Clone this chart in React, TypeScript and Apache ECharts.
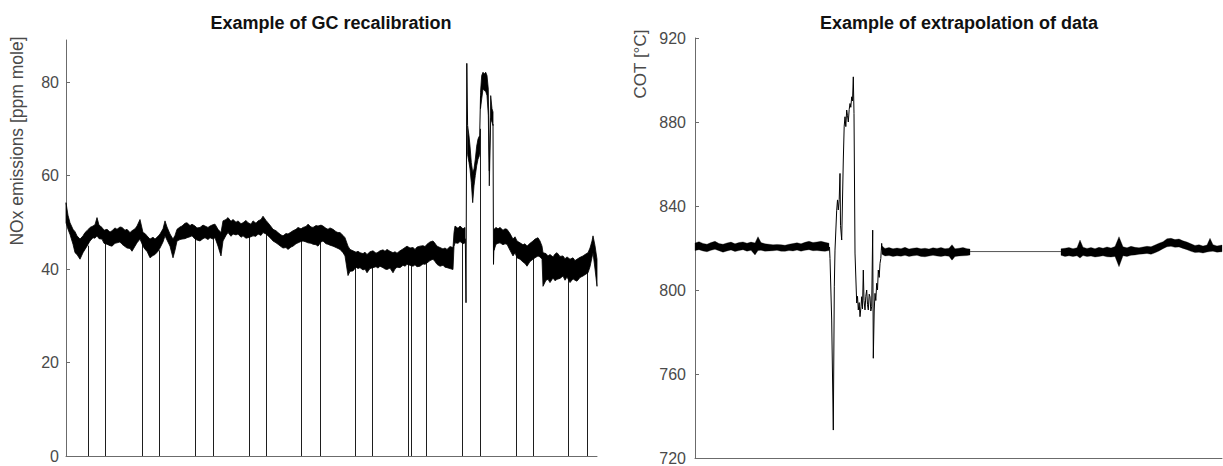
import React, { useEffect, useRef } from "react";
import * as echarts from "echarts";

// ---------- NOx emissions (left panel) ----------
// Noise envelope of the NOx trace: [sample, upper, lower] in ppm mole
const noxBase: [number, number, number][] = [
  [0, 54.2, 49.9], [2, 51.5, 48.5], [4, 49.9, 47.4], [7, 48.5, 45.3], [9, 48.0, 43.5],
  [11, 47.1, 43.1], [14, 46.4, 42.1], [17, 47.1, 43.5], [19, 47.8, 44.2], [21, 48.2, 44.9],
  [24, 48.9, 46.0], [27, 49.2, 46.7], [29, 49.5, 46.6], [31, 51.0, 47.1], [33, 49.4, 46.5],
  [36, 48.9, 46.4], [38, 48.3, 45.5], [41, 48.5, 45.3], [44, 47.9, 45.0], [46, 48.2, 44.9],
  [49, 48.8, 45.5], [51, 48.5, 45.6], [54, 49.0, 45.8], [56, 48.9, 45.3], [59, 48.3, 44.8],
  [61, 48.5, 44.5], [64, 47.8, 44.4], [66, 48.2, 43.8], [69, 48.6, 44.9], [71, 49.2, 45.6],
  [74, 50.6, 46.4], [77, 47.8, 44.9], [79, 47.6, 44.2], [81, 47.1, 43.8], [84, 46.4, 42.4],
  [87, 46.8, 42.9], [89, 46.4, 43.1], [92, 47.0, 43.8], [94, 47.5, 44.5], [97, 48.6, 45.8],
  [99, 50.3, 47.1], [101, 49.0, 46.2], [104, 47.5, 44.9], [107, 46.4, 42.4], [109, 47.2, 44.0],
  [111, 48.5, 46.0], [114, 49.0, 46.3], [116, 49.2, 46.4], [119, 49.8, 46.5], [121, 49.9, 46.7],
  [124, 49.3, 46.9], [126, 49.6, 47.1], [129, 49.2, 46.4], [131, 48.8, 46.2], [134, 48.9, 46.0],
  [137, 49.4, 46.5], [139, 49.2, 46.7], [142, 48.9, 46.3], [144, 49.2, 46.7], [147, 49.5, 46.4],
  [149, 49.6, 46.7], [152, 48.5, 44.9], [155, 47.8, 42.8], [157, 50.3, 46.0], [160, 50.6, 47.2],
  [162, 51.0, 47.8], [165, 50.2, 47.0], [167, 50.6, 47.5], [170, 50.0, 47.3], [172, 50.3, 47.5],
  [175, 49.7, 46.8], [177, 49.9, 47.1], [180, 50.4, 46.6], [182, 49.9, 46.7], [185, 49.6, 46.9],
  [187, 50.3, 47.1], [190, 49.8, 47.0], [192, 50.3, 47.5], [195, 50.6, 47.2], [197, 51.3, 47.8],
  [200, 50.4, 47.5], [202, 49.9, 47.1], [205, 49.1, 46.5], [207, 48.5, 46.0], [210, 48.2, 45.6],
  [212, 47.8, 45.3], [215, 47.3, 44.8], [217, 47.1, 44.5], [220, 47.6, 44.6], [222, 47.5, 44.2],
  [225, 47.9, 44.7], [227, 48.2, 44.9], [230, 48.5, 45.4], [232, 48.9, 45.6], [235, 48.6, 45.9],
  [237, 48.9, 46.0], [240, 49.1, 45.8], [242, 49.6, 45.6], [245, 49.0, 45.5], [247, 48.9, 45.3],
  [250, 49.3, 45.2], [252, 49.2, 44.9], [255, 49.4, 45.8], [257, 49.2, 46.0], [260, 48.7, 45.4],
  [262, 48.5, 45.3], [264, 48.8, 45.1], [267, 48.5, 44.9], [270, 48.0, 44.6], [272, 47.8, 44.4],
  [274, 47.8, 44.2], [277, 47.2, 43.5], [279, 46.7, 42.8], [282, 44.9, 38.6], [284, 44.2, 39.5],
  [287, 43.9, 39.6], [290, 43.6, 40.4], [292, 43.8, 40.1], [294, 43.5, 40.3], [297, 43.3, 39.8],
  [299, 43.6, 40.0], [301, 43.1, 39.2], [304, 43.7, 40.1], [307, 43.9, 40.3], [310, 43.4, 40.5],
  [312, 43.6, 40.2], [314, 43.9, 40.6], [317, 44.1, 40.3], [319, 43.8, 40.0], [321, 44.2, 39.9],
  [324, 43.8, 40.2], [327, 43.5, 39.2], [329, 43.7, 40.0], [331, 43.4, 40.4], [334, 43.9, 40.3],
  [337, 44.3, 40.8], [339, 44.6, 40.6], [341, 44.9, 41.0], [344, 44.5, 40.8], [347, 44.6, 40.6],
  [349, 44.2, 40.9], [351, 44.7, 40.5], [354, 44.9, 40.6], [357, 45.0, 41.1], [359, 44.8, 41.0],
  [361, 45.3, 41.3], [364, 45.8, 41.8], [367, 46.0, 42.1], [369, 45.5, 41.6], [371, 44.9, 41.0],
  [374, 44.6, 40.6], [377, 44.3, 40.8], [379, 44.5, 40.4], [381, 44.2, 40.3], [384, 44.8, 40.1],
  [387, 44.6, 39.9], [388, 47.8, 44.8], [389, 49.2, 45.6], [392, 48.7, 45.5], [394, 49.2, 45.9],
  [397, 48.6, 45.4], [399, 48.9, 45.6],
];

// V-shaped excursion after the first peak
const noxDip: [number, number, number][] = [
  [401.6, 70.7, 64.5], [403, 68.5, 62.8], [404, 66.3, 61.4], [405.3, 62.8, 58.5],
  [406.7, 60.7, 54.2], [408, 61.4, 57.8], [409.3, 63.5, 60.0], [410.7, 66.3, 62.1],
  [412, 67.8, 63.5], [413.3, 68.4, 64.2],
];

// High plateau around 80 ppm
const noxPlateau: [number, number, number][] = [
  [414.5, 77.8, 74.3], [415.7, 81.4, 76.4], [417, 82.1, 78.5], [418.3, 81.7, 78.2],
  [419.7, 82.1, 78.0], [421, 81.4, 77.1], [422.3, 78.5, 72.9], [423.3, 61.0, 57.8],
  [424.7, 77.1, 72.2], [426, 74.3, 71.4], [427, 73.6, 70.7],
];

// Trace after the excursion
const noxTail: [number, number, number][] = [
  [428, 48.5, 44.0], [430, 48.9, 45.3], [432, 48.6, 45.5], [434, 48.9, 45.6], [437, 48.3, 45.2],
  [439, 48.6, 45.4], [441, 48.5, 45.3], [444, 47.6, 44.0], [447, 46.4, 42.8], [449, 46.9, 43.5],
  [451, 46.0, 42.4], [454, 45.6, 42.1], [457, 45.2, 41.5], [459, 45.4, 41.2], [461, 44.9, 40.6],
  [464, 45.5, 41.6], [467, 46.0, 42.1], [469, 46.4, 42.4], [472, 46.7, 42.8], [474, 46.0, 42.6],
  [476, 44.9, 42.1], [477, 43.5, 36.3], [480, 43.3, 37.6], [482, 42.8, 37.8], [484, 43.1, 37.1],
  [487, 42.6, 38.1], [489, 43.2, 37.5], [491, 43.5, 37.8], [494, 42.7, 38.0], [497, 42.8, 38.5],
  [499, 42.2, 37.6], [501, 42.6, 38.3], [504, 42.1, 37.1], [507, 42.4, 37.9], [509, 41.8, 37.6],
  [511, 42.1, 37.4], [514, 42.5, 38.2], [517, 42.8, 38.5], [519, 43.1, 38.8], [522, 43.5, 39.2],
  [524, 44.5, 40.5], [526, 46.0, 42.5], [527, 47.1, 43.5], [529, 45.0, 40.0], [531, 42.1, 36.3],
];

// Sharp transitions drawn as single lines
const noxPeak: [number, number][] = [[399.3, 46.5], [400.0, 32.8], [400.8, 84.0], [401.6, 70.7]];
const noxRise: [number, number][] = [[413.3, 64.5], [414.5, 77.0]];
const noxFall: [number, number][] = [[427.0, 71.0], [427.5, 41.0], [428.0, 46.0]];

// GC recalibration instants: [sample, level before drop] — trace falls to 0 ppm
const noxRecal: [number, number][] = [
  [21.7, 45], [39.3, 47], [75.7, 45.5], [93, 44], [128.7, 47], [147, 47], [182.7, 47.5],
  [200, 48], [235.3, 46.5], [253.7, 46], [289, 41], [306, 41], [342.3, 41.5], [344.7, 41.5],
  [360, 42], [395.7, 46], [414.3, 70], [449.7, 44], [466.7, 43], [502.3, 38.5], [520.7, 40],
];

// ---------- Combustor outlet temperature (right panel) ----------
// Noise envelope of measured COT: [sample, upper, lower] in °C
const cotBefore: [number, number, number][] = [
  [0, 822.4, 818.8], [4, 823.0, 819.2], [8, 822.2, 818.6], [12, 821.8, 818.2], [16, 822.6, 818.9],
  [20, 823.2, 819.4], [24, 822.1, 818.7], [28, 821.8, 818.0], [32, 822.4, 818.6], [36, 822.8, 819.1],
  [40, 822.0, 818.3], [44, 822.6, 818.8], [48, 822.9, 819.2], [52, 822.3, 818.5], [56, 822.8, 818.9],
  [60, 822.4, 816.7], [63, 825.4, 818.8], [66, 822.6, 818.9], [70, 822.0, 818.5], [74, 821.8, 818.6],
  [78, 821.5, 818.7], [82, 821.7, 818.9], [86, 821.6, 818.5], [90, 821.3, 818.4], [94, 821.8, 818.8],
  [98, 822.1, 818.6], [102, 822.5, 819.0], [106, 822.0, 818.5], [110, 822.7, 818.9], [114, 823.2, 819.2],
  [118, 822.6, 818.7], [122, 822.9, 818.8], [126, 823.2, 818.6], [130, 822.7, 818.4], [134, 822.3, 818.8],
];

// Transient during the load change
const cotTransient: [number, number][] = [
  [134.5, 820.5], [135, 815], [136.7, 785.7], [138.3, 733.3], [139.3, 801.5], [140, 819],
  [141.7, 838], [142.5, 842.9], [143.3, 838.1], [144.2, 843], [145, 855.5], [145.5, 830.8],
  [146.7, 823.8], [148.3, 861.9], [149.2, 878], [150, 882.5], [150.8, 877.8], [151.7, 885.7],
  [152.5, 883], [153.3, 880], [154.2, 886], [155, 888.8], [155.8, 887], [156.7, 892],
  [157.5, 890], [158.3, 901.5], [159, 884], [160, 817.6], [161.7, 793.8], [162.5, 797],
  [163.3, 790.5], [164.2, 794], [165, 787.3], [166, 792], [166.7, 796.8], [167.5, 791],
  [168.3, 809.5], [169, 795], [170, 790.5], [170.8, 797], [171.7, 800], [172.5, 793],
  [173.3, 790.5], [174.2, 798], [175, 796.8], [175.8, 790], [176.7, 792], [177.7, 828.5],
  [178.3, 767.5], [179.2, 790], [180, 798.4], [180.8, 795], [181.7, 803.2], [182.5, 800],
  [183.3, 809.5], [184.2, 806], [185, 812.7], [185.8, 815], [186.7, 822.2], [187, 819],
];

const cotAfter: [number, number, number][] = [
  [187, 821.0, 817.0], [190, 819.8, 816.2], [194, 820.2, 816.4], [198, 819.6, 816.0], [202, 820.0, 816.3],
  [206, 819.7, 816.1], [210, 820.3, 816.5], [214, 819.5, 816.0], [218, 819.9, 816.3], [222, 820.1, 816.5],
  [226, 819.6, 816.0], [230, 819.9, 815.8], [234, 819.5, 816.2], [238, 820.1, 816.5], [242, 819.8, 816.2],
  [246, 820.2, 816.0], [250, 819.7, 816.3], [254, 819.9, 816.1], [257, 821.6, 814.2], [260, 819.6, 815.9],
  [264, 819.9, 816.2], [268, 820.2, 816.3], [272, 819.7, 816.4], [275, 819.5, 816.7],
];

// Missing stretch filled by extrapolation
const cotExtrapolated: [number, number][] = [[275, 818.3], [366, 818.3]];

const cotResumed: [number, number, number][] = [
  [366, 819.6, 816.5], [370, 819.9, 816.0], [374, 820.2, 816.3], [378, 819.7, 815.9], [382, 820.1, 816.3],
  [385, 823.8, 815.2], [388, 820.4, 816.4], [392, 819.8, 815.9], [396, 820.2, 816.2], [400, 819.7, 815.7],
  [404, 820.3, 816.0], [408, 819.9, 816.3], [412, 820.5, 815.8], [416, 820.0, 815.7], [420, 820.7, 816.0],
  [424, 825.4, 811.1], [428, 820.6, 816.3], [432, 820.1, 816.0], [436, 820.8, 816.5], [440, 820.3, 816.7],
  [444, 820.1, 817.0], [448, 820.5, 817.2], [452, 820.8, 817.4], [456, 820.6, 817.0], [460, 821.4, 817.7],
  [464, 822.3, 818.6], [468, 823.0, 819.7], [472, 824.4, 820.6], [476, 824.6, 820.8], [480, 824.0, 820.3],
  [484, 824.3, 820.5], [488, 823.4, 819.8], [492, 822.8, 819.2], [496, 822.0, 818.4], [500, 821.2, 817.8],
  [504, 821.6, 818.0], [508, 820.9, 817.6], [512, 821.4, 818.1], [515, 824.6, 818.3], [518, 821.6, 818.5],
  [522, 821.0, 818.0], [527, 821.4, 818.2],
];

const noxTicks = [0, 20, 40, 60, 80];
const cotTicks = [720, 760, 800, 840, 880, 920];

const FONT = "'Liberation Sans', Arial, Helvetica, sans-serif";
const AXIS_COLOR = "#6b6b6b";
const LABEL_COLOR = "#4a4a4a";
const TRACE = "#000000";

// Filled band between the upper and lower noise envelope
function bandSeries(samples: [number, number, number][], axis: number, edge = 0.8) {
  return {
    type: "custom",
    xAxisIndex: axis,
    yAxisIndex: axis,
    silent: true,
    data: samples,
    encode: { x: 0, y: [1, 2] },
    renderItem: (params: any, api: any) => {
      if (params.dataIndex !== 0) return null;
      const upper = samples.map((s) => api.coord([s[0], s[1]]));
      const lower = samples.map((s) => api.coord([s[0], s[2]])).reverse();
      return {
        type: "polygon",
        shape: { points: upper.concat(lower) },
        style: { fill: TRACE, stroke: TRACE, lineWidth: edge },
      };
    },
  };
}

function lineSeries(points: [number, number][], axis: number, color = TRACE) {
  return {
    type: "line",
    xAxisIndex: axis,
    yAxisIndex: axis,
    silent: true,
    symbol: "none",
    data: points,
    lineStyle: { color, width: 1 },
  };
}

function yAxis(grid: number, min: number, max: number, ticks: number[], margin: number) {
  return {
    type: "value",
    gridIndex: grid,
    min,
    max,
    axisLine: { show: true, onZero: false, lineStyle: { color: AXIS_COLOR, width: 1 } },
    axisTick: { show: true, inside: true, length: 4, customValues: ticks, lineStyle: { color: AXIS_COLOR } },
    axisLabel: { customValues: ticks, color: LABEL_COLOR, fontSize: 16, fontFamily: FONT, margin },
    splitLine: { show: false },
  };
}

function xAxis(grid: number, max: number) {
  return {
    type: "value",
    gridIndex: grid,
    min: 0,
    max,
    axisLine: { show: true, onZero: false, lineStyle: { color: AXIS_COLOR, width: 1 } },
    axisTick: { show: false },
    axisLabel: { show: false },
    splitLine: { show: false },
  };
}

export default function App() {
  const ref = useRef<HTMLDivElement>(null);

  useEffect(() => {
    if (!ref.current) return;
    const chart = echarts.init(ref.current, undefined, { renderer: "svg" });

    chart.setOption({
      animation: false,
      backgroundColor: "#ffffff",
      grid: [
        { left: 66, top: 40, width: 531, height: 416 },
        { left: 695, top: 38, width: 527, height: 420 },
      ],
      xAxis: [xAxis(0, 531), xAxis(1, 527)],
      yAxis: [yAxis(0, 0, 89, noxTicks, 7), yAxis(1, 720, 920, cotTicks, 9)],
      graphic: [
        {
          type: "text",
          x: 331,
          y: 23,
          style: {
            text: "Example of GC recalibration",
            font: `bold 18px ${FONT}`,
            fill: "#111111",
            align: "center",
            verticalAlign: "middle",
          },
        },
        {
          type: "text",
          x: 959,
          y: 23,
          style: {
            text: "Example of extrapolation of data",
            font: `bold 18px ${FONT}`,
            fill: "#111111",
            align: "center",
            verticalAlign: "middle",
          },
        },
        {
          type: "text",
          x: 17,
          y: 141,
          rotation: Math.PI / 2,
          style: {
            text: "NOx emissions [ppm mole]",
            font: `17.5px ${FONT}`,
            fill: LABEL_COLOR,
            align: "center",
            verticalAlign: "middle",
          },
        },
        {
          type: "text",
          x: 640,
          y: 64,
          rotation: Math.PI / 2,
          style: {
            text: "COT [°C]",
            font: `17px ${FONT}`,
            fill: LABEL_COLOR,
            align: "center",
            verticalAlign: "middle",
          },
        },
      ],
      series: [
        // GC recalibration drops to zero
        {
          type: "custom",
          xAxisIndex: 0,
          yAxisIndex: 0,
          silent: true,
          data: noxRecal,
          encode: { x: 0, y: 1 },
          renderItem: (_p: any, api: any) => {
            const a = api.coord([api.value(0), 0]);
            const b = api.coord([api.value(0), api.value(1)]);
            const x = Math.round(a[0]) + 0.5;
            return {
              type: "line",
              shape: { x1: x, y1: a[1], x2: x, y2: b[1] },
              style: { stroke: "#1e1e1e", lineWidth: 1 },
            };
          },
        },
        bandSeries(noxBase, 0),
        bandSeries(noxDip, 0),
        bandSeries(noxPlateau, 0),
        bandSeries(noxTail, 0),
        lineSeries(noxPeak, 0),
        lineSeries(noxRise, 0),
        lineSeries(noxFall, 0),

        bandSeries(cotBefore, 1, 0.3),
        lineSeries(cotTransient, 1),
        bandSeries(cotAfter, 1, 0.3),
        lineSeries(cotExtrapolated, 1, "#555555"),
        bandSeries(cotResumed, 1, 0.3),
      ],
    });

    return () => chart.dispose();
  }, []);

  return (
    <div
      ref={ref}
      style={{ position: "fixed", left: 0, top: 0, width: 1223, height: 466, background: "#fff" }}
    />
  );
}
